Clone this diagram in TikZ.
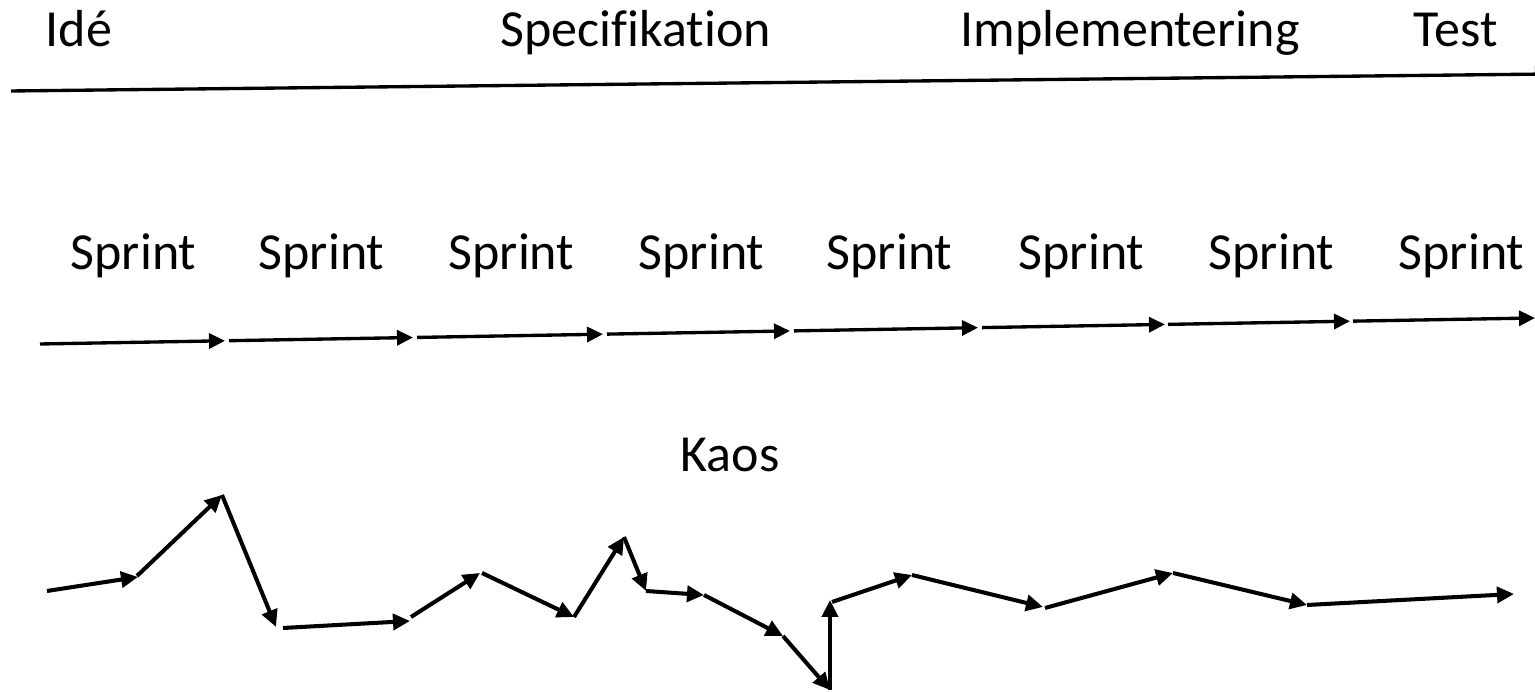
\documentclass[tikz,border=0pt]{standalone}
\usepackage{fontspec}
\setmainfont{Carlito}[Ligatures={NoCommon}]
\usetikzlibrary{arrows.meta}
\begin{document}
\begin{tikzpicture}[x=0.01cm,y=-0.01cm,
  lbl/.style={inner sep=0pt,anchor=base west,font=\fontsize{14.8pt}{17pt}\selectfont},
  sprintarrow/.style={line width=0.95pt,-{Triangle[length=0.16cm,width=0.15cm]}},
  chaosarrow/.style={line width=1.15pt,-{Triangle[length=0.17cm,width=0.16cm]}},
  axisline/.style={line width=0.95pt}]
\useasboundingbox (0,0) rectangle (1535,692);
\clip (0,0) rectangle (1535,692);
% top phase labels
\node[lbl] (ide) at (45,47) {Idé};
\node[lbl] (spec) at (500,47) {Specifikation};
\node[lbl] (impl) at (960,47) {Implementering};
\node[lbl] (test) at (1413,47) {Test};
\coordinate (t0) at (11,91);
\coordinate (t1) at (1550,74);
\draw[axisline,-{Triangle[length=0.15cm,width=0.15cm]}] (t0) -- (t1);
% sprint labels
\foreach \i/\x in {1/70,2/258,3/448,4/638,5/826,6/1018,7/1208,8/1398}{
  \node[lbl] (sp\i) at (\x,270) {Sprint};
}
% sprint arrows
\foreach \i/\a/\b in {1/40/225,2/229/413,3/417/603,4/607/790,5/794/978,6/982/1165,7/1168/1350,8/1353/1535}{
  \coordinate (sa\i) at (\a,{344-(\a-40)/1495*26});
  \coordinate (sb\i) at (\b,{344-(\b-40)/1495*26});
  \draw[sprintarrow] (sa\i) -- (sb\i);
}
% chaos
\node[lbl] (kaos) at (680,472) {Kaos};
\coordinate (c0) at (47,591);
\coordinate (c1) at (138,577);
\coordinate (c1b) at (137,576);
\coordinate (c2) at (222,495);
\coordinate (c3) at (276,627);
\coordinate (c3b) at (283,628);
\coordinate (c4) at (410,621);
\coordinate (c4b) at (411,617);
\coordinate (c5) at (480,573);
\coordinate (c5b) at (482,573);
\coordinate (c6) at (574,617);
\coordinate (c7) at (624,537);
\coordinate (c8) at (646,591);
\coordinate (c9) at (704,595);
\coordinate (c10) at (783,636);
\coordinate (c11) at (830,690);
\coordinate (c12) at (830,600);
\coordinate (c12b) at (832,602);
\coordinate (c13) at (912,575);
\coordinate (c14) at (1043,607);
\coordinate (c14b) at (1045,608);
\coordinate (c15) at (1173,573);
\coordinate (c16) at (1307,605);
\coordinate (c17) at (1514,594);
\draw[chaosarrow] (c0) -- (c1);
\draw[chaosarrow] (c1b) -- (c2);
\draw[chaosarrow] (c2) -- (c3);
\draw[chaosarrow] (c3b) -- (c4);
\draw[chaosarrow] (c4b) -- (c5);
\draw[chaosarrow] (c5b) -- (c6);
\draw[chaosarrow] (c6) -- (c7);
\draw[chaosarrow] (c7) -- (c8);
\draw[chaosarrow] (c8) -- (c9);
\draw[chaosarrow] (c9) -- (c10);
\draw[chaosarrow] (c10) -- (c11);
\draw[chaosarrow] (c11) -- (c12);
\draw[chaosarrow] (c12b) -- (c13);
\draw[chaosarrow] (c13) -- (c14);
\draw[chaosarrow] (c14b) -- (c15);
\draw[chaosarrow] (c15) -- (c16);
\draw[chaosarrow] (c16) -- (c17);
\end{tikzpicture}
\end{document}
